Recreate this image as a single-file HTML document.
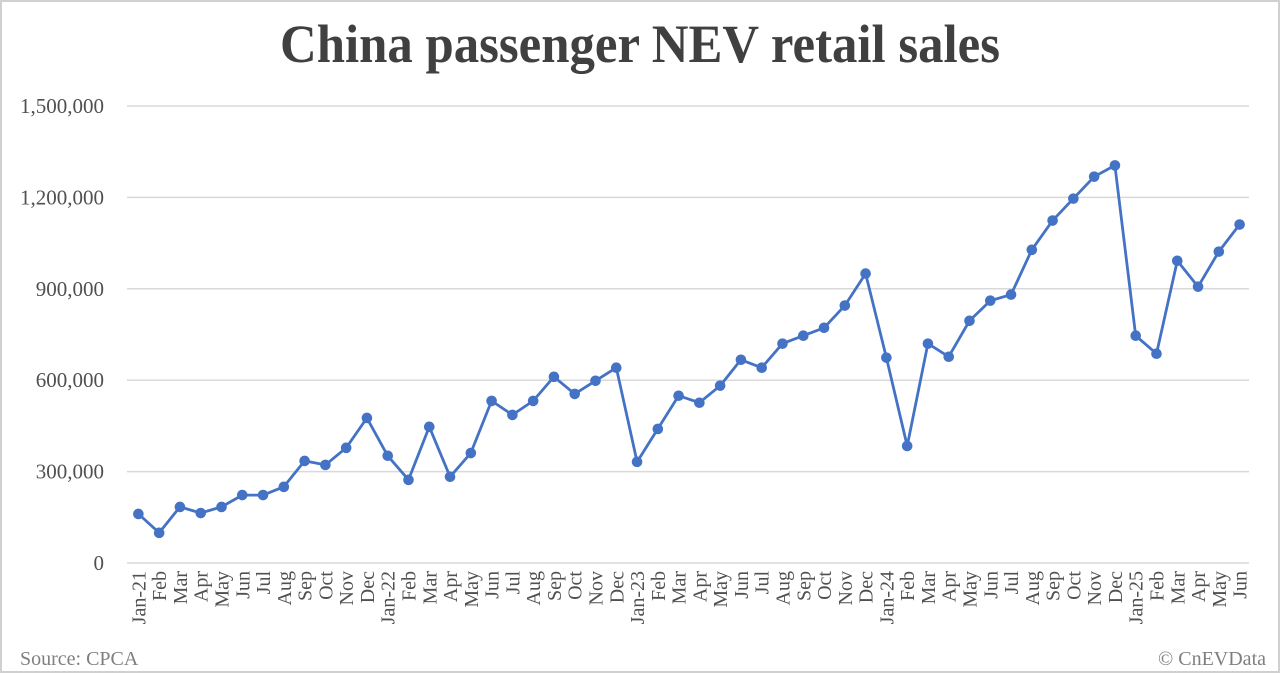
<!DOCTYPE html>
<html><head><meta charset="utf-8"><style>
html,body{margin:0;padding:0;background:#fff}
svg{display:block}
text{font-family:"Liberation Serif",serif}
</style></head><body>
<svg id="chart" width="1280" height="673">
<rect x="1" y="1" width="1278" height="671" fill="#fff" stroke="#d0d0d0" stroke-width="2"/>
<text x="640" y="62" text-anchor="middle" font-size="54" font-weight="bold" fill="#404040" textLength="720" lengthAdjust="spacingAndGlyphs">China passenger NEV retail sales</text>
<g id="grid"></g><g id="yl"></g><g id="xl"></g><g id="series"></g>
<text x="20" y="665" font-size="20" fill="#7f7f7f">Source: CPCA</text>
<text x="1266" y="665" text-anchor="end" font-size="20" fill="#7f7f7f">© CnEVData</text>
</svg>
<script>
const categories=["Jan-21","Feb","Mar","Apr","May","Jun","Jul","Aug","Sep","Oct","Nov","Dec",
"Jan-22","Feb","Mar","Apr","May","Jun","Jul","Aug","Sep","Oct","Nov","Dec",
"Jan-23","Feb","Mar","Apr","May","Jun","Jul","Aug","Sep","Oct","Nov","Dec",
"Jan-24","Feb","Mar","Apr","May","Jun","Jul","Aug","Sep","Oct","Nov","Dec",
"Jan-25","Feb","Mar","Apr","May","Jun"];
const sales=[161000,99000,184000,164000,184000,223000,223000,250000,335000,322000,378000,476000,
352000,273000,447000,283000,361000,532000,486000,532000,611000,555000,598000,641000,
332000,440000,549000,526000,582000,667000,641000,720000,746000,772000,845000,950000,
674000,384000,720000,677000,795000,861000,881000,1028000,1124000,1196000,1268000,1305000,
746000,687000,992000,907000,1022000,1111000];
const yTicks=[0,300000,600000,900000,1200000,1500000];
const yTickLabels=["0","300,000","600,000","900,000","1,200,000","1,500,000"];

const NS="http://www.w3.org/2000/svg";
const X0=127,X1=1249,Y0=563,Y1=106,YMAX=1500000;
const step=(X1-X0)/categories.length;
const xs=i=>X0+step*(i+0.5)+1;
const ys=v=>Y0-(v/YMAX)*(Y0-Y1);
function mk(tag,attrs,parent){const e=document.createElementNS(NS,tag);for(const k in attrs)e.setAttribute(k,attrs[k]);parent.appendChild(e);return e;}
const grid=document.getElementById('grid'),yl=document.getElementById('yl'),xl=document.getElementById('xl'),ser=document.getElementById('series');
yTicks.forEach((t,i)=>{
  const l=mk('line',{x1:X0,x2:X1,y1:ys(t),y2:ys(t),stroke:'#d9d9d9','stroke-width':1.5},grid);
  
  
  const tx=mk('text',{x:104,y:ys(t)+7,'text-anchor':'end','font-size':21,fill:'#505050'},yl);
  tx.textContent=yTickLabels[i];
  
  
});
categories.forEach((c,i)=>{
  const x=xs(i);
  const tx=mk('text',{x:0,y:0,'text-anchor':'end','font-size':20,fill:'#505050',transform:`translate(${x+7},571) rotate(-90)`},xl);
  tx.textContent=c;
  
  
});
const pts=sales.map((v,i)=>xs(i).toFixed(1)+','+ys(v).toFixed(1)).join(' ');
const pl=mk('polyline',{points:pts,fill:'none',stroke:'#4472c4','stroke-width':2.8,'stroke-linejoin':'round'},ser);


sales.forEach((v,i)=>{
  const c=mk('circle',{cx:xs(i),cy:ys(v),r:5.3,fill:'#4472c4'},ser);
  
  
});
</script>
</body></html>
